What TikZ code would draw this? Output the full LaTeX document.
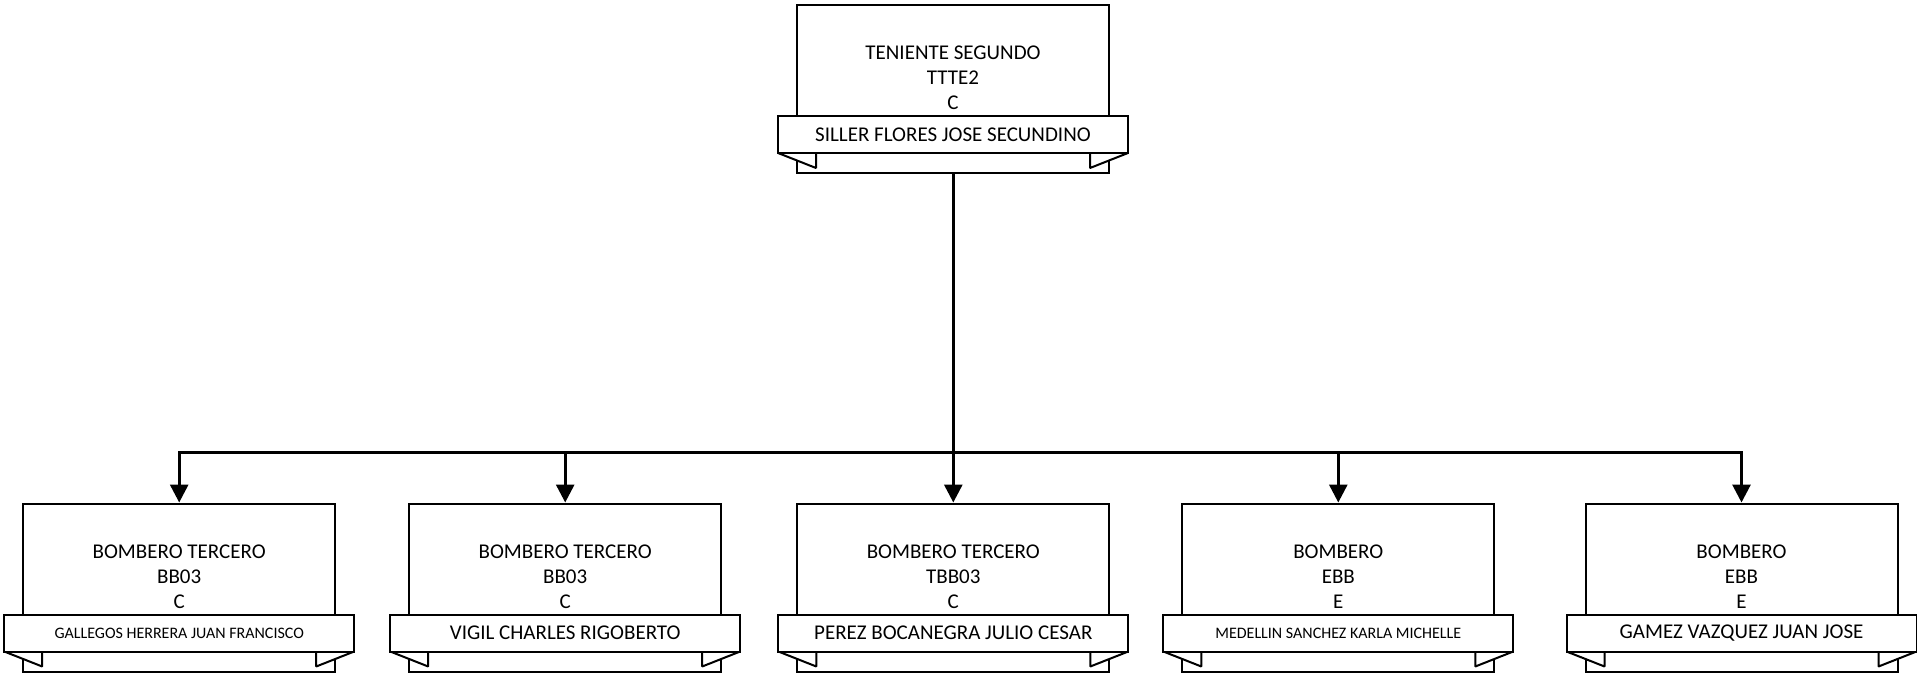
\documentclass[tikz,border=0pt]{standalone}
\usepackage{fontspec}
\setmainfont{Carlito}
\usetikzlibrary{arrows.meta}
\tikzset{
  unitbox/.style={draw, line width=2pt, fill=white, minimum width=312pt, minimum height=168pt, inner sep=0pt},
  bannerbox/.style={draw, line width=2pt, fill=white, minimum width=350pt, minimum height=37pt, inner sep=0pt},
  tabshape/.style={draw, line width=2pt, fill=white, line join=bevel},
  unittext/.style={align=center, font=\fontsize{21}{25}\selectfont, inner sep=0pt},
  conn/.style={line width=3pt, -{Triangle[length=18pt,width=18pt]}},
}
\newcommand\orgunit[6]{%
  \node[unitbox] (#1) at (#2,#3+84) {};
  \path[tabshape] (#2-175,#3+148) -- (#2-137,#3+163) -- (#2-137,#3+148) -- cycle;
  \path[tabshape] (#2+175,#3+148) -- (#2+137,#3+163) -- (#2+137,#3+148) -- cycle;
  \node[bannerbox, font=\fontsize{#6}{#6}\selectfont] (#1b) at (#2,#3+129.5) {#5};
  \node[unittext] (#1t) at (#2,#3+73) {#4};
}
\begin{document}
\begin{tikzpicture}[x=1pt,y=-1pt]
\fill[white] (0,0) rectangle (1917,674);
\useasboundingbox (0,0) rectangle (1917,674);
\orgunit{top}{953}{5}{TENIENTE SEGUNDO\\TTTE2\\C}{SILLER FLORES JOSE SECUNDINO}{21}
\orgunit{ca}{179.2}{503.5}{BOMBERO TERCERO\\BB03\\C}{GALLEGOS HERRERA JUAN FRANCISCO}{16}
\orgunit{cb}{565.2}{503.5}{BOMBERO TERCERO\\BB03\\C}{VIGIL CHARLES RIGOBERTO}{21}
\orgunit{cc}{953.3}{503.5}{BOMBERO TERCERO\\TBB03\\C}{PEREZ BOCANEGRA JULIO CESAR}{21}
\orgunit{cd}{1338.3}{503.5}{BOMBERO\\EBB\\E}{MEDELLIN SANCHEZ KARLA MICHELLE}{16}
\orgunit{ce}{1741.5}{503.5}{BOMBERO\\EBB\\E}{GAMEZ VAZQUEZ JUAN JOSE}{21}
\coordinate (bus) at (953,452.7);
\foreach \c in {ca,cb,cc,cd,ce}{
  \draw[conn] (top.south) -- (bus) -| (\c.north);
}
\end{tikzpicture}
\end{document}
